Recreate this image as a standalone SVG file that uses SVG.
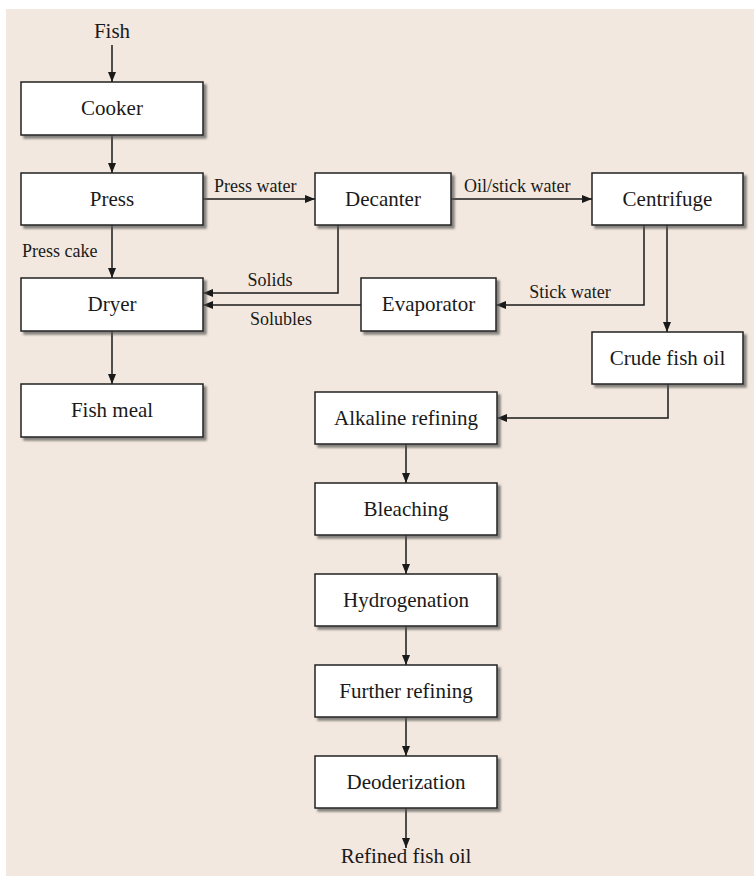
<svg xmlns="http://www.w3.org/2000/svg" width="754" height="876" viewBox="0 0 754 876">
<style>
.bg{fill:#f3e8df}
.box{fill:#fff;stroke:#222;stroke-width:1.5;filter:url(#sh)}
.nt{font-family:"Liberation Serif","Times New Roman",serif;font-size:21px;fill:#1a1a1a;text-anchor:middle}
.lt{font-family:"Liberation Serif","Times New Roman",serif;font-size:18px;fill:#1a1a1a}
.c{fill:none;stroke:#1a1a1a;stroke-width:1.5;marker-end:url(#ah)}
</style>
<defs>
<filter id="sh" x="-10%" y="-20%" width="130%" height="150%">
<feDropShadow dx="3" dy="3" stdDeviation="1.2" flood-color="#555" flood-opacity="0.7"/>
</filter>
<marker id="ah" markerUnits="userSpaceOnUse" markerWidth="10" markerHeight="8" refX="10" refY="4" orient="auto">
<path d="M0,0 L10,4 L0,8 z" fill="#1a1a1a"/>
</marker>
</defs>
<rect class="bg" x="6" y="9" width="748" height="867"/>

<g id="connectors">
<path class="c" d="M112,45 V82"/>
<path class="c" d="M112,135 V173"/>
<path class="c" d="M203,199 H315"/>
<path class="c" d="M451,199 H592"/>
<path class="c" d="M112,225 V278"/>
<path class="c" d="M338,225 V293 H203"/>
<path class="c" d="M361,305 H203"/>
<path class="c" d="M644,225 V305 H496"/>
<path class="c" d="M667,225 V332"/>
<path class="c" d="M668,384 V418 H497"/>
<path class="c" d="M112,331 V384"/>
<path class="c" d="M406,444 V483"/>
<path class="c" d="M406,535 V574"/>
<path class="c" d="M406,626 V665"/>
<path class="c" d="M406,717 V756"/>
<path class="c" d="M406,808 V848"/>
<text class="lt" x="214" y="192">Press water</text>
<text class="lt" x="464" y="192">Oil/stick water</text>
<text class="lt" x="22" y="257">Press cake</text>
<text class="lt" x="270" y="286" text-anchor="middle">Solids</text>
<text class="lt" x="281" y="325" text-anchor="middle">Solubles</text>
<text class="lt" x="570" y="298" text-anchor="middle">Stick water</text>
</g>

<g id="fish"><text class="nt" x="112" y="38">Fish</text></g>
<g id="cooker"><rect class="box" x="21" y="82" width="182" height="53"/><text class="nt" x="112" y="115">Cooker</text></g>
<g id="press"><rect class="box" x="21" y="173" width="182" height="52"/><text class="nt" x="112" y="206">Press</text></g>
<g id="decanter"><rect class="box" x="315" y="173" width="136" height="52"/><text class="nt" x="383" y="206">Decanter</text></g>
<g id="centrifuge"><rect class="box" x="592" y="173" width="151" height="52"/><text class="nt" x="667.5" y="206">Centrifuge</text></g>
<g id="dryer"><rect class="box" x="21" y="278" width="182" height="53"/><text class="nt" x="112" y="311">Dryer</text></g>
<g id="evaporator"><rect class="box" x="361" y="278" width="135" height="53"/><text class="nt" x="428.5" y="311">Evaporator</text></g>
<g id="fishmeal"><rect class="box" x="21" y="384" width="182" height="53"/><text class="nt" x="112" y="417">Fish meal</text></g>
<g id="crude"><rect class="box" x="592" y="332" width="151" height="52"/><text class="nt" x="667.5" y="365">Crude fish oil</text></g>
<g id="alkaline"><rect class="box" x="315" y="392" width="182" height="52"/><text class="nt" x="406" y="425">Alkaline refining</text></g>
<g id="bleaching"><rect class="box" x="315" y="483" width="182" height="52"/><text class="nt" x="406" y="516">Bleaching</text></g>
<g id="hydrogenation"><rect class="box" x="315" y="574" width="182" height="52"/><text class="nt" x="406" y="607">Hydrogenation</text></g>
<g id="further"><rect class="box" x="315" y="665" width="182" height="52"/><text class="nt" x="406" y="698">Further refining</text></g>
<g id="deoderization"><rect class="box" x="315" y="756" width="182" height="52"/><text class="nt" x="406" y="789">Deoderization</text></g>
<g id="refined"><text class="nt" x="406" y="863">Refined fish oil</text></g>
</svg>
